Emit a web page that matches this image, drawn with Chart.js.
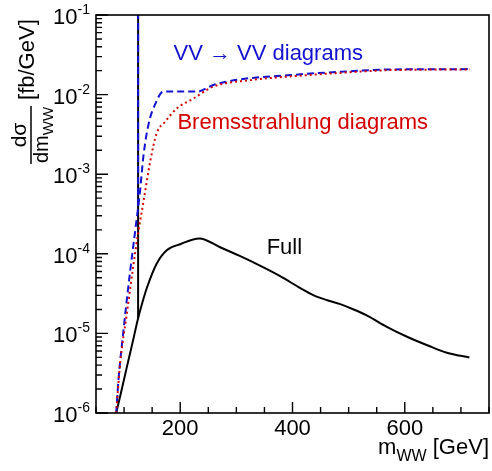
<!DOCTYPE html>
<html>
<head>
<meta charset="utf-8">
<script src="https://cdn.jsdelivr.net/npm/chart.js@4.4.1/dist/chart.umd.min.js"></script>
<style>
  html, body { margin: 0; padding: 0; background: #ffffff; }
  canvas { display: block; }
</style>
</head>
<body>
<canvas id="chart" width="492" height="471"></canvas>
<script>
// dσ/dm_WW [fb/GeV] as a function of m_WW [GeV]

// Full calculation
const massFull  = [86, 95, 105, 115, 125, 133, 141, 158, 176, 200, 234, 271, 307, 342, 378, 414, 437, 462, 485, 508,
                   533, 568, 604, 640, 675, 715];
const sigmaFull = [1.0e-6, 1.86e-6, 3.8e-6, 7.6e-6, 1.55e-5, 2.5e-5, 3.8e-5, 7.5e-5, 1.11e-4, 1.32e-4, 1.56e-4, 1.21e-4,
                   9.33e-5, 7.1e-5, 5.24e-5, 3.7e-5, 3.02e-5, 2.61e-5, 2.33e-5, 2.01e-5,
                   1.67e-5, 1.21e-5, 9.08e-6, 7.1e-6, 5.71e-6, 4.98e-6];

// VV -> VV diagrams only
const massVV  = [86, 90, 99, 111, 120, 128, 135, 144, 156, 170, 200, 230, 259, 306, 396, 487, 574, 716];
const sigmaVV = [1.0e-6, 2.6e-6, 1.1e-5, 6.2e-5, 2.0e-4, 5.75e-4, 1.82e-3, 4.37e-3, 7.76e-3, 1.09e-2, 1.09e-2, 1.09e-2,
                 1.32e-2, 1.55e-2, 1.76e-2, 1.94e-2, 2.07e-2, 2.09e-2];

// Bremsstrahlung diagrams only
const massBrems  = [86, 93, 105, 117, 126, 135, 147, 158, 173, 194, 224, 259, 325, 400, 487, 574, 716];
const sigmaBrems = [1.0e-6, 4.2e-6, 1.78e-5, 7.6e-5, 2.0e-4, 4.72e-4, 1.5e-3, 3.26e-3, 4.56e-3, 6.71e-3, 8.97e-3, 1.26e-2,
                    1.52e-2, 1.70e-2, 1.88e-2, 2.03e-2, 2.07e-2];

// Narrow Higgs resonance: the peak runs far off the top of the plot
const higgsMass   = 125;
const higgsPeak   = 1.0;
const fullAtHiggs = 1.55e-5;
const vvAtHiggs   = 4.0e-4;

// Axis ticks
const xMajorTicks = [200, 400, 600];
const xMinorStep  = 50;
const yDecades    = [-6, -5, -4, -3, -2, -1];

const pts = (xs, ys) => xs.map((m, i) => ({ x: m, y: ys[i] }));

const FONT = '"Liberation Sans", Arial, Helvetica, sans-serif';
const BLUE = '#1212d0';
const RED  = '#d40000';

// Text made of runs with their own size and baseline shift (sub/superscripts)
function richWidth(ctx, parts) {
  let w = 0;
  for (const p of parts) { ctx.font = p.size + 'px ' + FONT; w += ctx.measureText(p.t).width; }
  return w;
}
function drawRich(ctx, parts, x, y) {
  for (const p of parts) {
    ctx.font = p.size + 'px ' + FONT;
    ctx.fillText(p.t, x, y + (p.dy || 0));
    x += ctx.measureText(p.t).width;
  }
}

const rootStyle = {
  id: 'rootStyle',
  afterDatasetsDraw(chart) {
    const { ctx, chartArea: a, scales: { x, y } } = chart;
    ctx.save();
    ctx.strokeStyle = '#000';
    ctx.fillStyle = '#000';
    ctx.lineWidth = 1.6;
    ctx.strokeRect(a.left, a.top, a.right - a.left, a.bottom - a.top);

    // ticks pointing into the frame
    ctx.lineWidth = 1.4;
    ctx.beginPath();
    for (const e of yDecades) {
      for (let m = 1; m <= 9; m++) {
        const v = m * Math.pow(10, e);
        if (v > y.max * 1.0001) continue;
        const py = y.getPixelForValue(v);
        const len = m === 1 ? 12 : 6;
        ctx.moveTo(a.left, py); ctx.lineTo(a.left + len, py);
      }
    }
    for (let v = Math.ceil(x.min / xMinorStep) * xMinorStep; v <= x.max; v += xMinorStep) {
      const px = x.getPixelForValue(v);
      const len = xMajorTicks.includes(v) ? 11 : 6;
      ctx.moveTo(px, a.bottom); ctx.lineTo(px, a.bottom - len);
    }
    ctx.stroke();

    // y tick labels 10^n
    ctx.textBaseline = 'alphabetic';
    ctx.textAlign = 'left';
    for (const e of yDecades) {
      const py = y.getPixelForValue(Math.pow(10, e));
      const parts = [{ t: '10', size: 22 }, { t: String(e), size: 14, dy: -10 }];
      const w = richWidth(ctx, parts);
      drawRich(ctx, parts, a.left - 6 - w, py + 9);
    }

    // x tick labels
    ctx.font = '22px ' + FONT;
    ctx.textAlign = 'center';
    for (const v of xMajorTicks) {
      ctx.fillText(String(v), x.getPixelForValue(v), a.bottom + 22);
    }

    // x axis title: m_WW [GeV], right aligned
    ctx.textAlign = 'left';
    const xt = [{ t: 'm', size: 22 }, { t: 'WW', size: 16, dy: 7 }, { t: ' [GeV]', size: 22 }];
    drawRich(ctx, xt, a.right - richWidth(ctx, xt), a.bottom + 41);

    // y axis title: dσ / dm_WW [fb/GeV], rotated
    ctx.save();
    ctx.translate(31, 135);
    ctx.rotate(-Math.PI / 2);
    const den = [{ t: 'dm', size: 20 }, { t: 'WW', size: 15, dy: 5 }];
    const dw = richWidth(ctx, den);
    ctx.font = '21px ' + FONT;
    const nw = ctx.measureText('dσ').width;
    const bw = Math.max(dw, nw) + 2;
    ctx.fillText('dσ', -nw / 2, -5);
    drawRich(ctx, den, -dw / 2, 17);
    ctx.lineWidth = 1.5;
    ctx.beginPath();
    ctx.moveTo(-bw / 2, 0); ctx.lineTo(bw / 2, 0);
    ctx.stroke();
    ctx.font = '22px ' + FONT;
    ctx.fillText('[fb/GeV]', bw / 2 + 6, 3);
    ctx.restore();

    // curve labels
    ctx.font = '22px ' + FONT;
    ctx.fillStyle = BLUE;
    ctx.fillText('VV \u2192 VV diagrams', x.getPixelForValue(188), y.getPixelForValue(2.72e-2));
    ctx.fillStyle = RED;
    ctx.fillText('Bremsstrahlung diagrams', x.getPixelForValue(195), y.getPixelForValue(3.66e-3));
    ctx.fillStyle = '#000';
    ctx.fillText('Full', x.getPixelForValue(354), y.getPixelForValue(9.9e-5));
    ctx.restore();
  }
};

new Chart(document.getElementById('chart'), {
  type: 'line',
  data: {
    datasets: [
      { label: 'Bremsstrahlung diagrams', data: pts(massBrems, sigmaBrems), borderColor: RED,
        borderWidth: 2, borderDash: [2, 3], cubicInterpolationMode: 'monotone', order: 0 },
      { label: 'VV \u2192 VV diagrams', data: pts(massVV, sigmaVV), borderColor: BLUE,
        borderWidth: 2, borderDash: [7, 4], cubicInterpolationMode: 'monotone', order: 1 },
      { label: 'VV \u2192 VV resonance', data: [{ x: higgsMass, y: vvAtHiggs }, { x: higgsMass, y: higgsPeak }],
        borderColor: BLUE, borderWidth: 2, borderDash: [7, 4], order: 1 },
      { label: 'Full', data: pts(massFull, sigmaFull), borderColor: '#000',
        borderWidth: 2, cubicInterpolationMode: 'monotone', order: 2 },
      { label: 'Full resonance', data: [{ x: higgsMass, y: fullAtHiggs }, { x: higgsMass, y: higgsPeak }],
        borderColor: '#000', borderWidth: 2, order: 3 }
    ]
  },
  options: {
    responsive: false,
    animation: false,
    clip: 0,
    layout: { padding: { left: 96, top: 15, right: 3, bottom: 58 } },
    elements: { point: { radius: 0 }, line: { fill: false } },
    plugins: { legend: { display: false }, tooltip: { enabled: false } },
    scales: {
      x: { type: 'linear', min: 50, max: 750, display: false },
      y: { type: 'logarithmic', min: 1e-6, max: 1e-1, display: false }
    }
  },
  plugins: [rootStyle]
});
</script>
</body>
</html>
